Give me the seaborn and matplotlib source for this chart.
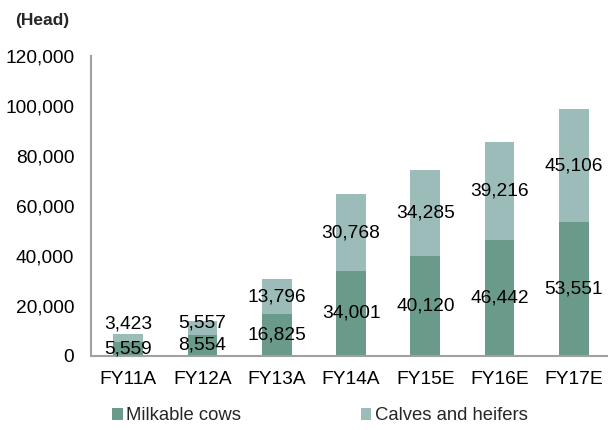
import matplotlib
matplotlib.use("Agg")
import matplotlib.pyplot as plt
import seaborn as sns
import pandas as pd
import numpy as np
from matplotlib.patches import Patch
from matplotlib.ticker import FuncFormatter, FixedLocator

years = ["FY11A", "FY12A", "FY13A", "FY14A", "FY15E", "FY16E", "FY17E"]
milkable_cows = [5559, 8554, 16825, 34001, 40120, 46442, 53551]
calves_heifers = [3423, 5557, 13796, 30768, 34285, 39216, 45106]
series_names = ["Milkable cows", "Calves and heifers"]

dark = "#6a9a8a"
light = "#9bbcb9"
axis_grey = "#a0a0a0"
FS = 13.8

sns.set_style("white")
plt.rcParams["font.family"] = ["Liberation Sans", "DejaVu Sans"]

df = pd.DataFrame({
    "year": years,
    "cows": milkable_cows,
    "calves": calves_heifers,
})
df["total"] = df["cows"] + df["calves"]

fig = plt.figure(figsize=(6.08, 4.30), dpi=100)
W, H = 608, 430
ax = fig.add_axes([91 / W, (H - 356) / H, 520 / W, 300 / H])

# stacked bars: full totals in the light tone, cows drawn over them
sns.barplot(data=df, x="year", y="total", color=light, width=0.40,
            saturation=1, ax=ax, edgecolor="none")
sns.barplot(data=df, x="year", y="cows", color=dark, width=0.40,
            saturation=1, ax=ax, edgecolor="none")

ax.set_xlim(-0.5, 6.5)
ax.set_ylim(0, 120000)
ax.set_xlabel("")
ax.set_ylabel("")

ax.yaxis.set_major_locator(FixedLocator(np.arange(0, 120001, 20000)))
ax.yaxis.set_major_formatter(FuncFormatter(lambda v, p: f"{int(v):,}"))

for s in ["top", "right"]:
    ax.spines[s].set_visible(False)
for s in ["left", "bottom"]:
    ax.spines[s].set_color(axis_grey)
    ax.spines[s].set_linewidth(1.5)

ax.tick_params(axis="y", which="major", direction="out", length=5,
               width=1.2, color=axis_grey, labelsize=FS, pad=7,
               labelcolor="#000000")
ax.tick_params(axis="x", which="major", length=0, labelsize=FS, pad=11,
               labelcolor="#000000")
ax.set_xticks(np.arange(-0.5, 7, 1.0), minor=True)
ax.tick_params(axis="x", which="minor", direction="out", length=5,
               width=1.2, color=axis_grey)

# value labels centred in each segment
for i in range(len(years)):
    c = milkable_cows[i]
    h = calves_heifers[i]
    lift_h = 0
    if h < 8000:
        lift_h = 5500 if c < 8000 else 2000
    ax.text(i, c / 2, f"{c:,}", ha="center", va="center",
            fontsize=FS, color="#000000")
    ax.text(i, c + h / 2 + lift_h, f"{h:,}", ha="center", va="center",
            fontsize=FS, color="#000000")

fig.text(15 / W, 1 - 20 / H, "(Head)", fontsize=12.5, fontweight="bold",
         ha="left", va="center")

handles = [Patch(facecolor=dark, edgecolor="none"),
           Patch(facecolor=light, edgecolor="none")]
fig.legend(handles, series_names, loc="center left",
           bbox_to_anchor=(105 / W, 1 - 416 / H), ncol=2, frameon=False,
           fontsize=13.3, handlelength=0.55, handleheight=0.55,
           handletextpad=0.2, columnspacing=6.5, borderaxespad=0)

fig.savefig("out.png", dpi=100)
